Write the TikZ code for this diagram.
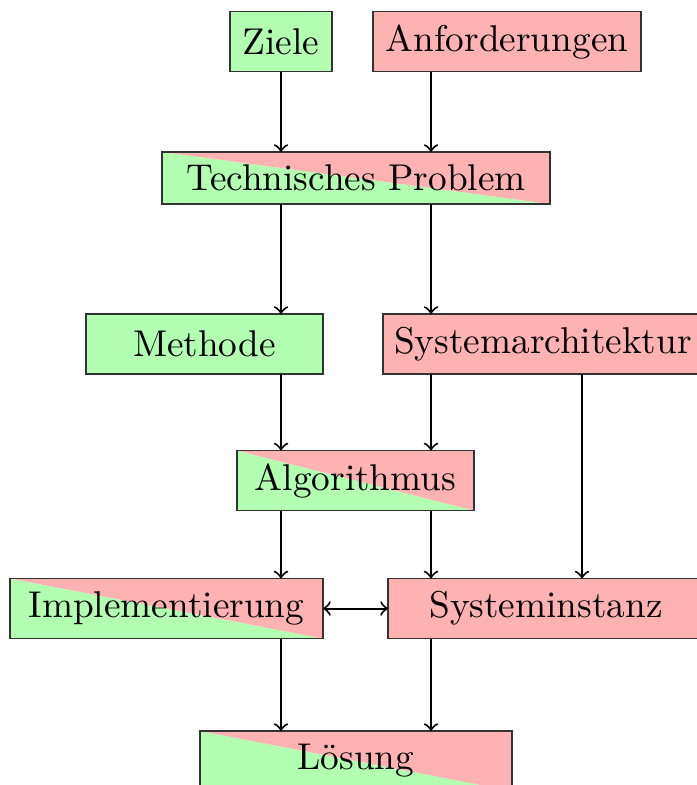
\documentclass[tikz,border=0pt]{standalone}
\def\pxu{0.2737pt}
\tikzset{
  box/.style={draw=black!80, inner sep=0pt, outer sep=0pt, minimum height=60*\pxu, line width=0.4pt, font=\fontsize{10.2}{12}\selectfont},
  gbox/.style={box, fill=green!30},
  rbox/.style={box, fill=red!30},
  sbox/.style={box, path picture={
      \fill[green!30] (path picture bounding box.north west) -- (path picture bounding box.south west) -- (path picture bounding box.south east) -- cycle;
      \fill[red!30] (path picture bounding box.north west) -- (path picture bounding box.north east) -- (path picture bounding box.south east) -- cycle;}},
  arr/.style={->, line width=0.55pt},
  darr/.style={<->, line width=0.55pt}
}
\begin{document}
\begin{tikzpicture}[x=\pxu, y=-\pxu]
\clip (0,0) rectangle (697,785);
\useasboundingbox (0,0) rectangle (697,785);
\coordinate (c1) at (281,0);
\coordinate (c2) at (431,0);
\coordinate (c3) at (582,0);
\node[gbox, minimum width=102*\pxu] (Z) at (281,41.5) {Ziele};
\node[rbox, minimum width=268*\pxu] (A) at (507,41.5) {Anforderungen};
\node[sbox, minimum width=388*\pxu, minimum height=52*\pxu] (TP) at (356,178) {Technisches Problem};
\node[gbox, minimum width=237*\pxu] (M) at (204.5,344) {Methode};
\node[rbox, minimum width=320*\pxu] (SA) at (543,344) {Systemarchitektur};
\node[sbox, minimum width=237*\pxu] (Al) at (355.5,480.5) {Algorithmus};
\node[sbox, minimum width=313*\pxu] (I) at (166.5,608.5) {Implementierung};
\node[rbox, minimum width=316*\pxu] (SI) at (546,608.5) {Systeminstanz};
\node[sbox, minimum width=312*\pxu] (L) at (356,761) {Lösung};
\draw[arr] (c1 |- Z.south) -- (c1 |- TP.north);
\draw[arr] (c2 |- A.south) -- (c2 |- TP.north);
\draw[arr] (c1 |- TP.south) -- (c1 |- M.north);
\draw[arr] (c2 |- TP.south) -- (c2 |- SA.north);
\draw[arr] (c1 |- M.south) -- (c1 |- Al.north);
\draw[arr] (c2 |- SA.south) -- (c2 |- Al.north);
\draw[arr] (c3 |- SA.south) -- (c3 |- SI.north);
\draw[arr] (c1 |- Al.south) -- (c1 |- I.north);
\draw[arr] (c2 |- Al.south) -- (c2 |- SI.north);
\draw[darr] (I.east) -- (SI.west);
\draw[arr] (c1 |- I.south) -- (c1 |- L.north);
\draw[arr] (c2 |- SI.south) -- (c2 |- L.north);
\end{tikzpicture}
\end{document}
